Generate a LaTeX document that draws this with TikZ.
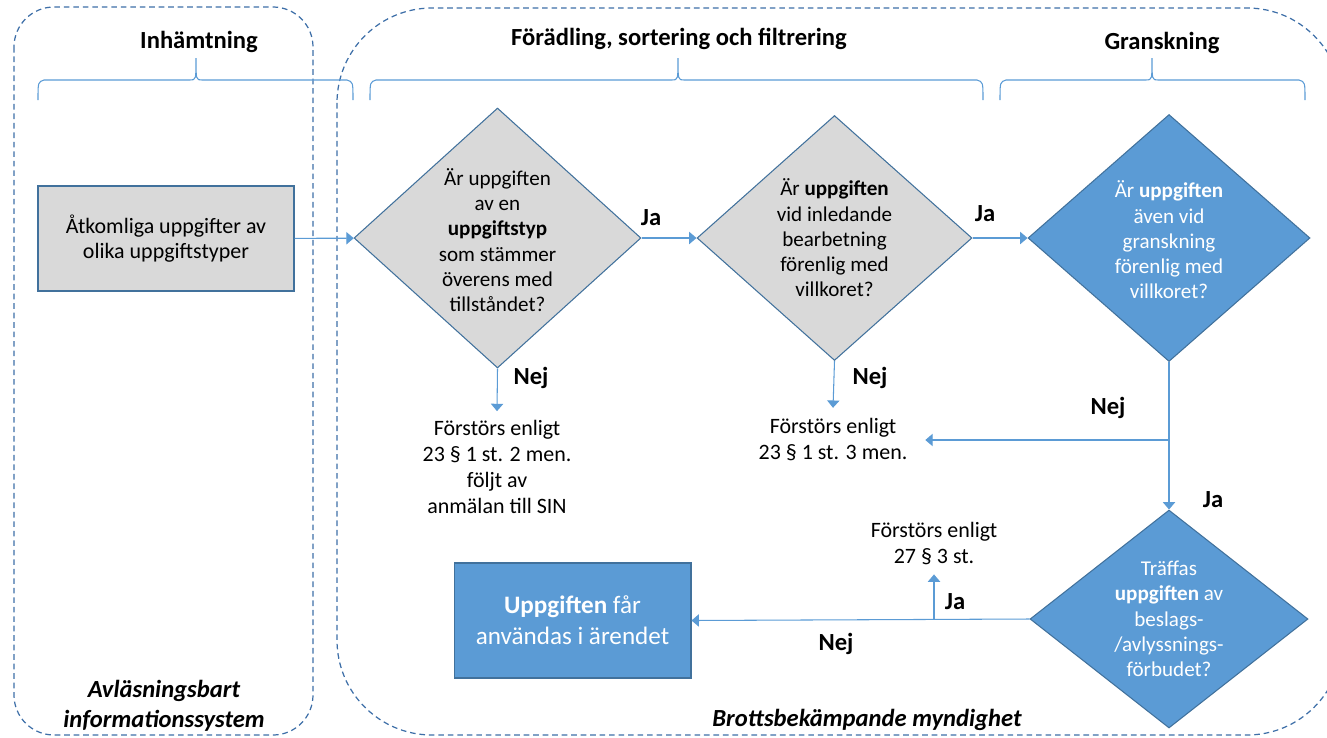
\documentclass[tikz,border=0pt]{standalone}
\usepackage{fontspec}
\setmainfont{Carlito}
\usetikzlibrary{arrows.meta,shapes.geometric}

\definecolor{boxline}{HTML}{41719C}
\definecolor{boxgray}{HTML}{D9D9D9}
\definecolor{boxblue}{HTML}{5B9BD5}
\definecolor{arrline}{HTML}{5B9BD5}
\definecolor{dashline}{HTML}{3E6FA8}

\tikzset{
  txt/.style={font=\fontsize{12.5}{14.8}\selectfont, align=center},
  diatxt/.style={font=\fontsize{12}{14.4}\selectfont, align=center},
  wtxt/.style={diatxt, text=white},
  lbl/.style={font=\fontsize{14}{16}\selectfont\bfseries},
  grp/.style={font=\fontsize{14}{17}\selectfont\bfseries\itshape, align=center},
  dia/.style={diamond, draw=boxline, fill=boxgray, inner sep=0pt, line width=0.6pt},
  bluedia/.style={dia, fill=boxblue},
  grbox/.style={rectangle, draw=boxline, fill=boxgray, line width=0.6pt,
    align=center, font=\fontsize{12.5}{14}\selectfont},
  bluebox/.style={rectangle, draw=boxline, fill=boxblue, line width=0.6pt,
    text=white, align=center, font=\fontsize{14.3}{17.5}\selectfont},
  arr/.style={draw=arrline, line width=0.6pt, -{Triangle[length=4.2pt,width=7pt]}},
  area/.style={draw=dashline, line width=0.7pt, dash pattern=on 3.2pt off 2.2pt},
  brc/.style={draw=arrline, line width=0.6pt}
}

% brace: left end, right end, tip
\newcommand{\drawbrace}[3]{
  \draw[brc] (#1,100) .. controls (#1,82) .. (#1+6,80) -- (#3-6,80)
    .. controls (#3,80) .. (#3,58) .. controls (#3,80) .. (#3+6,80)
    -- (#2-6,80) .. controls (#2,82) .. (#2,100);
}

\begin{document}
\begin{tikzpicture}[x=0.02cm,y=-0.02cm]
  \useasboundingbox (0,0) rectangle (1327,737);

  % the two areas
  \draw[area, rounded corners=0.8cm] (14,7) rectangle (313,735);
  \draw[area, rounded corners=1.9cm] (337,8) rectangle (1342,735);

  \drawbrace{38}{353}{196}
  \drawbrace{370}{983}{678}
  \drawbrace{1000}{1305}{1152}

  \node[lbl] (h1) at (199,42) {Inhämtning};
  \node[lbl] (h2) at (679,39) {Förädling, sortering och filtrering};
  \node[lbl] (h3) at (1162,43) {Granskning};

  \node[grbox, minimum width=5.12cm, minimum height=2.1cm] (a1) at (166,238.5)
    {Åtkomliga uppgifter av\\olika uppgiftstyper};

  \node[dia, minimum width=5.74cm, minimum height=5.2cm] (d1) at (497.5,238) {};
  \node[diatxt] (d1txt) at (497.5,240) {Är uppgiften\\av en\\\textbf{uppgiftstyp}\\som stämmer\\överens med\\tillståndet?};

  \node[dia, minimum width=5.5cm, minimum height=4.9cm] (d2) at (834.5,238) {};
  \node[diatxt] (d2txt) at (d2) {Är \textbf{uppgiften}\\vid inledande\\bearbetning\\förenlig med\\villkoret?};

  \node[bluedia, minimum width=5.64cm, minimum height=4.94cm] (d3) at (1169,238) {};
  \node[wtxt] (d3txt) at (1169,240) {Är \textbf{uppgiften}\\även vid\\granskning\\förenlig med\\villkoret?};

  \node[bluedia, minimum width=5.56cm, minimum height=4.36cm] (d4) at (1169,619) {};
  \node[wtxt] (d4txt) at (d4) {Träffas\\\textbf{uppgiften} av\\beslags-\\/avlyssnings-\\förbudet?};

  \node[bluebox, minimum width=4.74cm, minimum height=2.3cm] (b2) at (572.5,620.5)
    {\textbf{Uppgiften} får\\användas i ärendet};

  \node[txt, inner xsep=6pt, inner ysep=5pt] (t1) at (497,467)
    {Förstörs enligt\\23 § 1 st. 2 men.\\följt av\\anmälan till SIN};
  \node[txt, inner xsep=10pt, inner ysep=6pt] (t2) at (833,440) {Förstörs enligt\\23 § 1 st. 3 men.};
  \node[txt, inner ysep=5pt] (t3) at (934,544) {Förstörs enligt\\27 § 3 st.};

  \draw[arr] (a1) -- (d1);
  \draw[arr] (d1) -- (d2);
  \draw[arr] (d2) -- (d3);
  \draw[arr] (d1.south) -- (t1.north);
  \draw[arr] (d2.south) -- (t2.north);
  \draw[arr] (d3.south) |- (t2.east);
  \draw[arr] (d3.south |- t2.east) -- (d4.north);
  \draw[arr] (d4.west) -- (b2.east);
  \draw[arr] (t3.south |- d4.west) -- (t3.south);

  \node[lbl] (ja1) at (651,218) {Ja};
  \node[lbl] (ja2) at (985,214) {Ja};
  \node[lbl] (nej1) at (531,378) {Nej};
  \node[lbl] (nej2) at (870,378) {Nej};
  \node[lbl] (nej3) at (1108,408) {Nej};
  \node[lbl] (ja3) at (1213,500) {Ja};
  \node[lbl] (ja4) at (955,602) {Ja};
  \node[lbl] (nej4) at (836,644) {Nej};

  \node[grp] (g1) at (164,706) {Avläsningsbart\\informationssystem};
  \node[grp] (g2) at (867,720) {Brottsbekämpande myndighet};
\end{tikzpicture}
\end{document}
